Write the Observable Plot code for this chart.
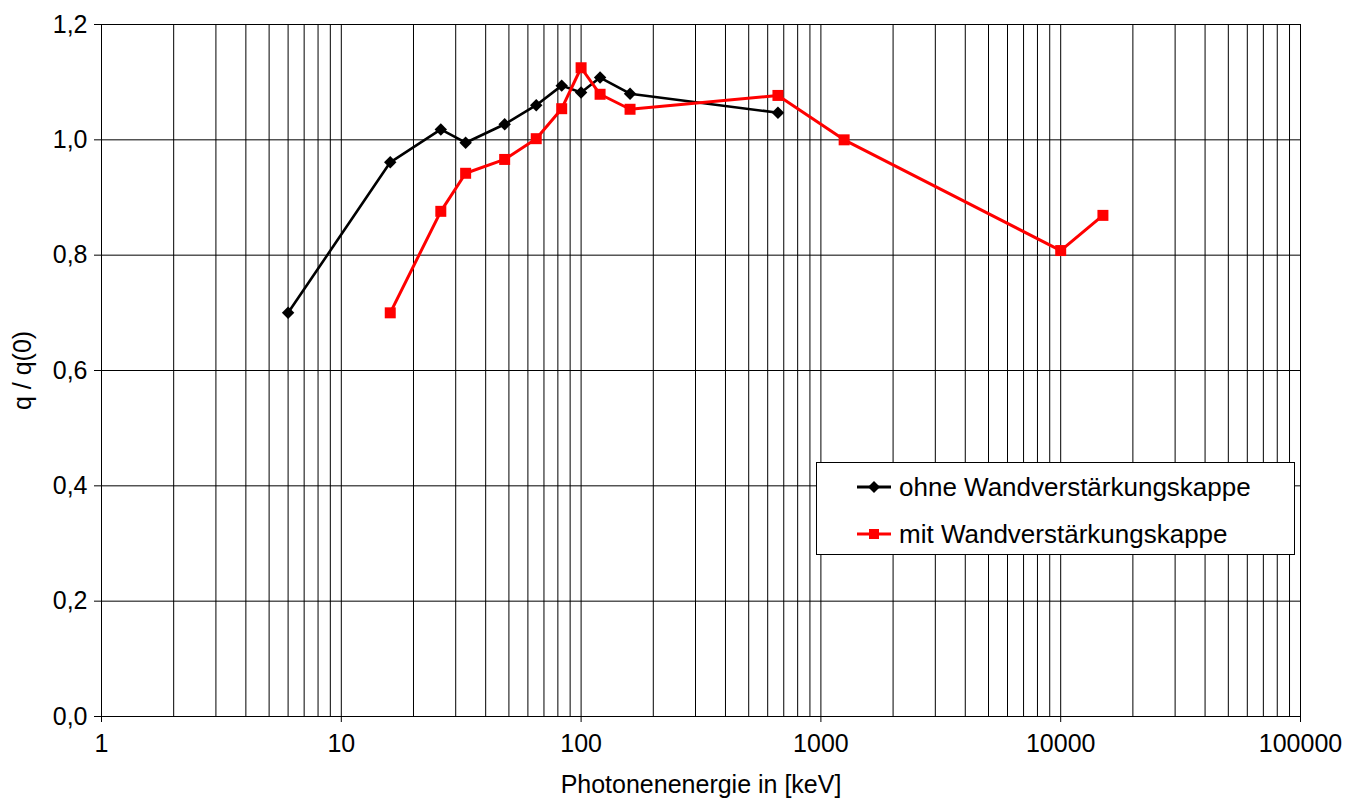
<!DOCTYPE html>
<html>
<head>
<meta charset="utf-8">
<script src="https://cdn.jsdelivr.net/npm/d3@7"></script>
<script src="https://cdn.jsdelivr.net/npm/@observablehq/plot@0.6"></script>
<style>
  html, body { margin: 0; padding: 0; background: #fff; }
  #wrap { position: relative; width: 1358px; height: 798px; font-family: "Liberation Sans", Arial, sans-serif; }
  #legend { position: absolute; left: 816px; top: 462px; width: 479px; height: 93px; border: 1px solid #000; background: #fff; box-sizing: border-box; }
  .row { position: absolute; left: 40px; display: flex; align-items: center; font-size: 26px; color: #000; white-space: nowrap; }
  .row svg { margin-right: 8px; }
</style>
</head>
<body>
<div id="wrap"></div>
<script>
// Data
const energyOhne = [6, 16, 26, 33, 48, 65, 83, 100, 120, 160, 662];
const qOhne      = [0.700, 0.961, 1.018, 0.995, 1.027, 1.060, 1.094, 1.082, 1.108, 1.080, 1.047];
const energyMit  = [16, 26, 33, 48, 65, 83, 100, 120, 160, 662, 1250, 10000, 15000];
const qMit       = [0.700, 0.876, 0.942, 0.966, 1.002, 1.054, 1.125, 1.079, 1.053, 1.077, 1.000, 0.808, 0.869];
const seriesNames = ["ohne Wandverstärkungskappe", "mit Wandverstärkungskappe"];
const xDecades = [1, 10, 100, 1000, 10000, 100000];
const yTicks = [0, 0.2, 0.4, 0.6, 0.8, 1.0, 1.2];

const ohne = energyOhne.map((e, i) => ({e, q: qOhne[i]}));
const mit = energyMit.map((e, i) => ({e, q: qMit[i]}));
const minor = [];
for (let d = 1; d < 100000; d *= 10) for (let k = 1; k <= 9; k++) minor.push(d * k);
minor.push(100000);

const fmtY = d => d.toFixed(1).replace(".", ",");

const chart = Plot.plot({
  width: 1358,
  height: 798,
  marginLeft: 101,
  marginRight: 58,
  marginTop: 24,
  marginBottom: 82,
  style: {fontFamily: "Liberation Sans, Arial, sans-serif", fontSize: "25px", color: "#000", background: "#fff"},
  x: {type: "log", domain: [1, 100000]},
  y: {domain: [0, 1.2]},
  marks: [
    Plot.ruleX(minor, {stroke: "#000", strokeWidth: 1}),
    Plot.ruleY(yTicks, {stroke: "#000", strokeWidth: 1}),
    Plot.axisX(xDecades, {tickSize: 6, tickPadding: 12, tickFormat: d => String(d), stroke: "#000", label: null, fontSize: 25}),
    Plot.axisY(yTicks, {tickSize: 7, tickPadding: 7, tickFormat: fmtY, label: null, fontSize: 25}),
    Plot.text(["Photonenenergie in [keV]"], {frameAnchor: "bottom", dy: 76, fontSize: 25, textAnchor: "middle"}),
    Plot.text(["q / q(0)"], {frameAnchor: "left", dx: -79, rotate: -90, fontSize: 25, textAnchor: "middle"}),
    Plot.line(ohne, {x: "e", y: "q", stroke: "#000", strokeWidth: 2.6}),
    Plot.dot(ohne, {x: "e", y: "q", symbol: "diamond2", r: 5.6, fill: "#000", stroke: "none"}),
    Plot.line(mit, {x: "e", y: "q", stroke: "#ff0000", strokeWidth: 3}),
    Plot.dot(mit, {x: "e", y: "q", symbol: "square", r: 6.2, fill: "#ff0000", stroke: "none"})
  ]
});
const wrap = document.getElementById("wrap");
wrap.appendChild(chart);

// Legend
const legend = document.createElement("div");
legend.id = "legend";
const styles = [{color: "#000", shape: "diamond"}, {color: "#ff0000", shape: "square"}];
seriesNames.forEach((name, i) => {
  const row = document.createElement("div");
  row.className = "row";
  row.style.top = (i === 0 ? 0 : 47) + "px";
  const s = styles[i];
  const marker = s.shape === "diamond"
    ? `<path d="M17,18 L23,24 L17,30 L11,24 Z" fill="${s.color}"/>`
    : `<rect x="12" y="19" width="10" height="10" fill="${s.color}"/>`;
  row.innerHTML = `<svg width="34" height="48" viewBox="0 0 34 48"><line x1="0" y1="24" x2="34" y2="24" stroke="${s.color}" stroke-width="2.8"/>${marker}</svg><span>${name}</span>`;
  legend.appendChild(row);
});
wrap.appendChild(legend);
</script>
</body>
</html>
